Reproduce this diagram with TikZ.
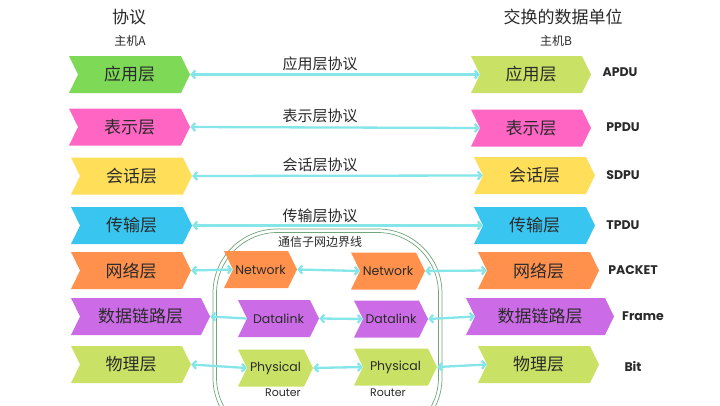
\documentclass[tikz,border=0pt]{standalone}
\usepackage{fontspec}
\setmainfont{Noto Sans CJK SC}
\newfontfamily\lat{Poppins}
\usetikzlibrary{shapes.symbols,arrows.meta}
\definecolor{cgreen}{HTML}{7ED957}
\definecolor{clime}{HTML}{C9E265}
\definecolor{cpink}{HTML}{FF66C4}
\definecolor{cyellow}{HTML}{FFDE59}
\definecolor{cblue}{HTML}{38C6F0}
\definecolor{corange}{HTML}{FF914D}
\definecolor{cpurple}{HTML}{CB6CE6}
\definecolor{carrow}{HTML}{84E6E8}
\definecolor{cbound}{HTML}{6FA67A}
\definecolor{ctext}{HTML}{2A2A2A}
\tikzset{
  chev/.style={signal, signal to=east, signal from=west, signal pointer angle=128,
    minimum height=37pt, inner sep=0pt, text=ctext, font=\fontsize{17}{17}\selectfont},
  rchev/.style={chev, font=\lat\fontsize{12.5}{12.5}\selectfont},
  link/.style={draw=carrow, line width=2.3pt, {Straight Barb[length=3.5pt,width=8pt]}-{Straight Barb[length=3.5pt,width=8pt]}},
  linkl/.style={draw=carrow, line width=2.3pt, {Straight Barb[length=3.5pt,width=8pt]}-},
  plabel/.style={text=ctext, font=\fontsize{15}{15}\selectfont},
  unit/.style={text=ctext, font=\lat\bfseries\fontsize{12.5}{12.5}\selectfont},
  head/.style={text=ctext, font=\fontsize{17}{17}\selectfont},
  sub/.style={text=ctext, font=\fontsize{12}{12}\selectfont},
  small/.style={text=ctext, font=\lat\fontsize{11}{11}\selectfont},
}
\begin{document}
\begin{tikzpicture}[x=1pt,y=-1pt]
\useasboundingbox (0,0) rectangle (720,405);
\clip (0,0) rectangle (720,405);
\fill[white] (0,0) rectangle (720,405);
% boundary
\draw[cbound, line width=0.7pt, rounded corners=64pt] (213,229) rectangle (442,442);
\draw[cbound, line width=0.7pt, rounded corners=61pt] (216.5,232.5) rectangle (438.5,438.5);
% headers
\node[head] (hA) at (129,17) {协议};
\node[sub] (sA) at (130,41) {主机A};
\node[head] (hB) at (563,17) {交换的数据单位};
\node[sub] (sB) at (556,41) {主机B};
% left column
\node[chev, fill=cgreen, minimum width=121pt] (LA) at (129.5,74.5) {应用层};
\node[chev, fill=cpink, minimum width=121pt] (LP) at (129.5,127) {表示层};
\node[chev, fill=cyellow, minimum width=121pt] (LS) at (131.5,176) {会话层};
\node[chev, fill=cblue, minimum width=121pt] (LT) at (131.5,225.5) {传输层};
\node[chev, fill=corange, minimum width=120pt] (LN) at (131,270.5) {网络层};
\node[chev, fill=cpurple, minimum width=139pt] (LD) at (140.5,316.5) {数据链路层};
\node[chev, fill=clime, minimum width=120pt] (LPh) at (131,364.5) {物理层};
% right column
\node[chev, fill=clime, minimum width=120pt] (RA) at (531,74.5) {应用层};
\node[chev, fill=cpink, minimum width=120pt] (RP) at (531,128) {表示层};
\node[chev, fill=cyellow, minimum width=121pt] (RS) at (534.5,175.5) {会话层};
\node[chev, fill=cblue, minimum width=121pt] (RT) at (534.5,225.5) {传输层};
\node[chev, fill=corange, minimum width=121pt] (RN) at (538.5,270.5) {网络层};
\node[chev, fill=cpurple, minimum width=148pt] (RD) at (540,316.5) {数据链路层};
\node[chev, fill=clime, minimum width=121pt] (RPh) at (538.5,364.5) {物理层};
% router chevrons
\node[rchev, fill=corange, minimum width=73pt] (N1) at (260.5,269.5) {Network};
\node[rchev, fill=corange, minimum width=74pt] (N2) at (388,271) {Network};
\node[rchev, fill=cpurple, minimum width=81pt] (D1) at (278.5,318.5) {Datalink};
\node[rchev, fill=cpurple, minimum width=74pt] (D2) at (391,319) {Datalink};
\node[rchev, fill=clime, minimum width=75pt] (P1) at (275.5,368) {Physical};
\node[rchev, fill=clime, minimum width=83pt] (P2) at (395.5,367) {Physical};
% units
\node[unit] (uA) at (620,72) {APDU};
\node[unit] (uP) at (623,127) {PPDU};
\node[unit] (uS) at (623,175) {SDPU};
\node[unit] (uT) at (623,225) {TPDU};
\node[unit] (uN) at (633,270) {PACKET};
\node[unit] (uD) at (643,316) {Frame};
\node[unit] (uPh) at (633,366) {Bit};
% protocol labels
\node[plabel] (pA) at (320,64) {应用层协议};
\node[plabel] (pP) at (320,116) {表示层协议};
\node[plabel] (pS) at (320,165) {会话层协议};
\node[plabel] (pT) at (320,216) {传输层协议};
\node[sub] (bd) at (320,242) {通信子网边界线};
\node[small] (r1) at (283,393) {Router};
\node[small] (r2) at (388,393) {Router};
% links
\draw[link] (LA.east) -- (RA.west);
\draw[link] (LP.east) -- (RP.west);
\draw[link] (LS.east) -- (RS.west);
\draw[link] (LT.east) -- (RT.west);
\draw[link] (LN.east) -- (N1.west);
\draw[link] (N1.east) -- (N2.west);
\draw[link] (N2.east) -- (RN.west);
\draw[linkl] (LD.east) -- (D1.west);
\draw[link] (D1.east) -- (D2.west);
\draw[link] (D2.east) -- (RD.west);
\draw[link] (LPh.east) -- (P1.west);
\draw[link] (P1.east) -- (P2.west);
\draw[link] (P2.east) -- (RPh.west);
\end{tikzpicture}
\end{document}
